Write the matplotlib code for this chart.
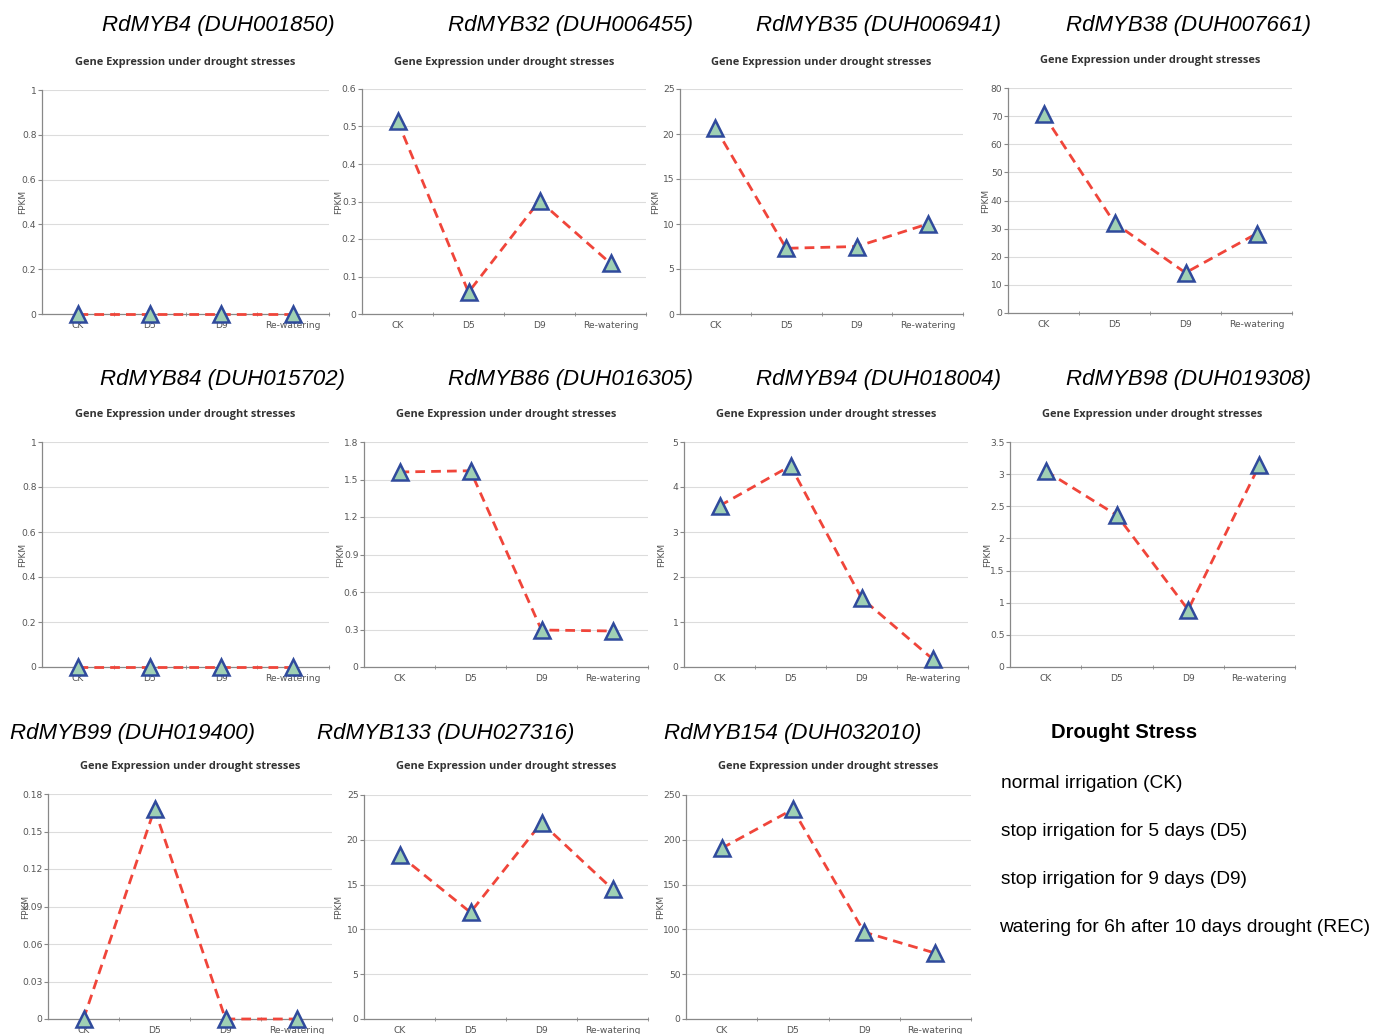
import numpy as np
import matplotlib
matplotlib.use("Agg")
import matplotlib.pyplot as plt
from matplotlib.ticker import MultipleLocator, FuncFormatter

W, H = 1376, 1034

categories = ["CK", "D5", "D9", "Re-watering"]

genes = ["RdMYB4 (DUH001850)", "RdMYB32 (DUH006455)", "RdMYB35 (DUH006941)", "RdMYB38 (DUH007661)",
         "RdMYB84 (DUH015702)", "RdMYB86 (DUH016305)", "RdMYB94 (DUH018004)", "RdMYB98 (DUH019308)",
         "RdMYB99 (DUH019400)", "RdMYB133 (DUH027316)", "RdMYB154 (DUH032010)"]

myb4 = [0.0, 0.0, 0.0, 0.0]
myb32 = [0.515, 0.058, 0.302, 0.135]
myb35 = [20.7, 7.3, 7.5, 10.0]
myb38 = [70.6, 32.0, 14.3, 28.2]
myb84 = [0.0, 0.0, 0.0, 0.0]
myb86 = [1.56, 1.57, 0.296, 0.288]
myb94 = [3.58, 4.47, 1.53, 0.18]
myb98 = [3.05, 2.36, 0.89, 3.14]
myb99 = [0.0, 0.168, 0.0, 0.0]
myb133 = [18.3, 11.9, 21.9, 14.5]
myb154 = [190.5, 234.0, 97.0, 73.5]
values = [myb4, myb32, myb35, myb38, myb84, myb86, myb94, myb98, myb99, myb133, myb154]

y_max = [1, 0.6, 25, 80, 1, 1.8, 5, 3.5, 0.18, 25, 250]
y_step = [0.2, 0.1, 5, 10, 0.2, 0.3, 1, 0.5, 0.03, 5, 50]

legend_title = "Drought Stress"
legend_lines = ["normal irrigation (CK)", "stop irrigation for 5 days (D5)",
                "stop irrigation for 9 days (D9)", "watering for 6h after 10 days drought (REC)"]

# pixel boxes of each small chart: left, top, right, bottom
boxes = [(42, 90, 329, 314), (362, 89, 646, 314), (680, 89, 963, 314), (1008, 88, 1292, 313),
         (42, 442, 329, 667), (364, 442, 648, 667), (684, 442, 968, 667), (1010, 442, 1295, 667),
         (48, 794, 332, 1019), (364, 795, 648, 1019), (686, 795, 971, 1019)]
gene_pos = [(218, 26), (570, 26), (878, 26), (1189, 26),
            (223, 380), (570, 380), (878, 380), (1189, 380),
            (132, 733), (446, 733), (793, 733)]
title_y = [62, 62, 62, 61, 415, 415, 415, 415, 767, 767, 767]
fpkm_x = [27, 343, 660, 990, 27, 345, 666, 992, 30, 343, 665]

fig = plt.figure(figsize=(W / 100, H / 100), dpi=100)

tick_col = "#555555"
for i, vals in enumerate(values):
    l, t, r, b = boxes[i]
    ax = fig.add_axes([l / W, 1 - b / H, (r - l) / W, (b - t) / H])
    x = np.arange(len(categories))
    ax.plot(x, vals, color="#f0453a", lw=2, linestyle=(0, (3.5, 2.2)), zorder=3, clip_on=False)
    ax.plot(x, vals, linestyle="none", marker="^", ms=11, mfc="#9fd0b4", mec="#2f4a9c", mew=1.8,
            zorder=4, clip_on=False)
    ax.set_xlim(-0.5, 3.5)
    ax.set_ylim(0, y_max[i])
    ax.yaxis.set_major_locator(MultipleLocator(y_step[i]))
    ax.yaxis.set_major_formatter(FuncFormatter(lambda v, p: ("%.2f" % v).rstrip("0").rstrip(".")))
    ax.set_xticks(x)
    ax.set_xticklabels(categories)
    ax.set_xticks([0.5, 1.5, 2.5, 3.5], minor=True)
    ax.tick_params(axis="x", which="major", length=0, labelsize=6.6, labelcolor=tick_col, pad=5)
    ax.tick_params(axis="x", which="minor", length=3, color="#888888", direction="inout")
    ax.tick_params(axis="y", length=3, color="#888888", labelsize=6.6, labelcolor=tick_col, pad=1)
    ax.grid(axis="y", color="#dcdcdc", lw=0.8)
    ax.set_axisbelow(True)
    for s in ["top", "right"]:
        ax.spines[s].set_visible(False)
    for s in ["left", "bottom"]:
        ax.spines[s].set_color("#888888")
        ax.spines[s].set_linewidth(0.9)
    # FPKM sits where the original puts it, even on top of tick labels
    ax.set_ylabel("FPKM", fontsize=6.5, color=tick_col)
    ax.yaxis.set_label_coords((fpkm_x[i] - l) / (r - l), 0.5)
    fig.text((l + r) / 2 / W, 1 - title_y[i] / H, "Gene Expression under drought stresses",
             fontsize=7.9, fontweight="bold", color="#333333", family="Open Sans", ha="center", va="center")
    gx, gy = gene_pos[i]
    fig.text(gx / W, 1 - gy / H, genes[i], fontsize=16, style="italic", family="Liberation Sans",
             ha="center", va="center")

fig.text(1124 / W, 1 - 733 / H, legend_title, fontsize=14.6, fontweight="bold", family="Liberation Sans",
         ha="center", va="center")
for k, line in enumerate(legend_lines):
    fig.text((1001 if k < 3 else 999) / W, 1 - (784 + 48 * k) / H, line, fontsize=13.8,
             family="Liberation Sans", ha="left", va="center")

fig.savefig("out.png", dpi=100, facecolor="white")
